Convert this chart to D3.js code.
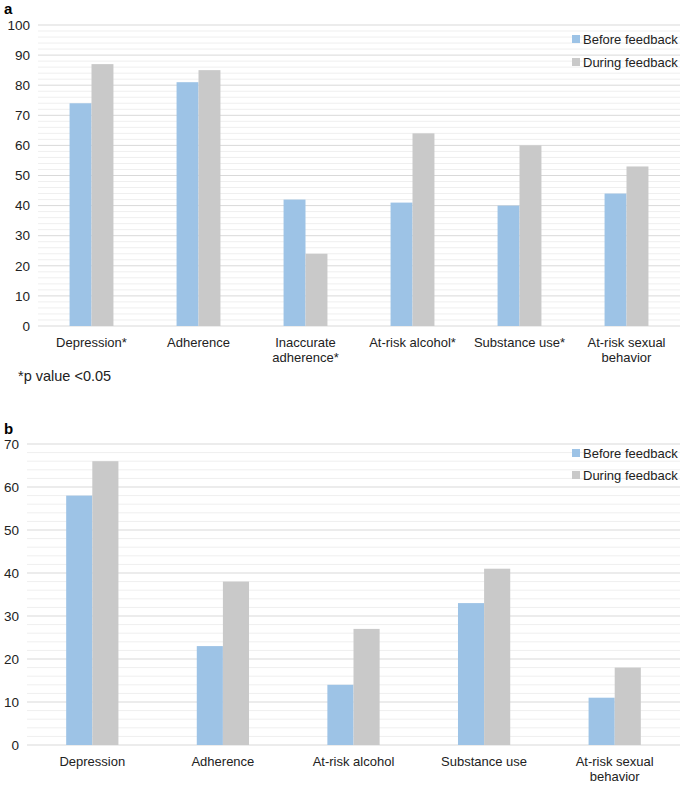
<!DOCTYPE html>
<html><head><meta charset="utf-8">
<script src="https://cdn.jsdelivr.net/npm/d3@7"></script>
<style>body{margin:0;background:#fff;}svg{display:block;font-family:"Liberation Sans",Arial,sans-serif;}</style>
</head><body>
<script>
const seriesNames = ["Before feedback", "During feedback"];
const colors = ["#9dc3e6", "#c9c9c9"];

const catsA = ["Depression*", "Adherence", "Inaccurate adherence*", "At-risk alcohol*", "Substance use*", "At-risk sexual behavior"];
const beforeA = [74, 81, 42, 41, 40, 44];
const duringA = [87, 85, 24, 64, 60, 53];
const ticksA = [0,10,20,30,40,50,60,70,80,90,100];

const catsB = ["Depression", "Adherence", "At-risk alcohol", "Substance use", "At-risk sexual behavior"];
const beforeB = [58, 23, 14, 33, 11];
const duringB = [66, 38, 27, 41, 18];
const ticksB = [0,10,20,30,40,50,60,70];

const labelLines = {
  "Inaccurate adherence*": ["Inaccurate", "adherence*"],
  "At-risk sexual behavior": ["At-risk sexual", "behavior"]
};

const svg = d3.select("body").append("svg").attr("width", 685).attr("height", 785);

function panel(opt) {
  const g = svg.append("g");
  const x = d3.scaleBand().domain(opt.cats).range([opt.x0, opt.x1]);
  const y = d3.scaleLinear().domain([0, opt.max]).range([opt.y0, opt.y1]);
  const minor = d3.range(0, opt.max + 0.001, 2).filter(v => v % 10 !== 0);
  g.selectAll(".mg").data(minor).enter().append("line")
    .attr("x1", opt.x0).attr("x2", opt.x1)
    .attr("y1", d => y(d)).attr("y2", d => y(d))
    .attr("stroke", "#efefef").attr("stroke-width", 1);
  g.selectAll(".Mg").data(opt.ticks).enter().append("line")
    .attr("x1", opt.x0).attr("x2", opt.x1)
    .attr("y1", d => y(d)).attr("y2", d => y(d))
    .attr("stroke", "#d9d9d9").attr("stroke-width", 1);
  g.selectAll(".yt").data(opt.ticks).enter().append("text")
    .attr("x", opt.x0 - 8).attr("y", d => y(d)).attr("dy", "0.35em")
    .attr("text-anchor", "end").attr("font-size", 13.5).attr("fill", "#222")
    .text(d => d);
  const bw = x.bandwidth() * opt.barFrac;
  const vals = [opt.before, opt.during];
  vals.forEach((arr, si) => {
    g.selectAll(".b" + si).data(opt.cats).enter().append("rect")
      .attr("x", d => x(d) + x.bandwidth() / 2 - bw + si * bw)
      .attr("width", bw)
      .attr("y", (d, i) => y(arr[i]))
      .attr("height", (d, i) => y(0) - y(arr[i]))
      .attr("fill", colors[si]);
  });
  opt.cats.forEach(c => {
    const lines = labelLines[c] || [c];
    const t = g.append("text").attr("text-anchor", "middle").attr("font-size", 13).attr("fill", "#222")
      .attr("x", x(c) + x.bandwidth() / 2).attr("y", opt.y0 + 21);
    lines.forEach((l, i) => t.append("tspan").attr("x", x(c) + x.bandwidth() / 2).attr("dy", i ? 15 : 0).text(l));
  });
  g.append("text").attr("x", 4).attr("y", opt.letterY).attr("font-size", 15).attr("font-weight", "bold").text(opt.letter);
  seriesNames.forEach((s, i) => {
    g.append("rect").attr("x", 572).attr("y", opt.legY + i * opt.legGap - 4).attr("width", 8).attr("height", 8).attr("fill", colors[i]);
    g.append("text").attr("x", 583).attr("y", opt.legY + i * opt.legGap).attr("dy", "0.35em")
      .attr("font-size", 13).attr("fill", "#222").text(s);
  });
}

panel({cats: catsA, before: beforeA, during: duringA, ticks: ticksA, max: 100,
  x0: 38, x1: 680, y0: 326, y1: 25, barFrac: 0.205, letter: "a", letterY: 14, legY: 39, legGap: 23});
panel({cats: catsB, before: beforeB, during: duringB, ticks: ticksB, max: 70,
  x0: 27, x1: 680, y0: 745, y1: 444, barFrac: 0.2, letter: "b", letterY: 434, legY: 453, legGap: 22});

svg.append("text").attr("x", 18).attr("y", 381).attr("font-size", 14.5).attr("fill", "#222").text("*p value <0.05");
</script>
</body></html>
